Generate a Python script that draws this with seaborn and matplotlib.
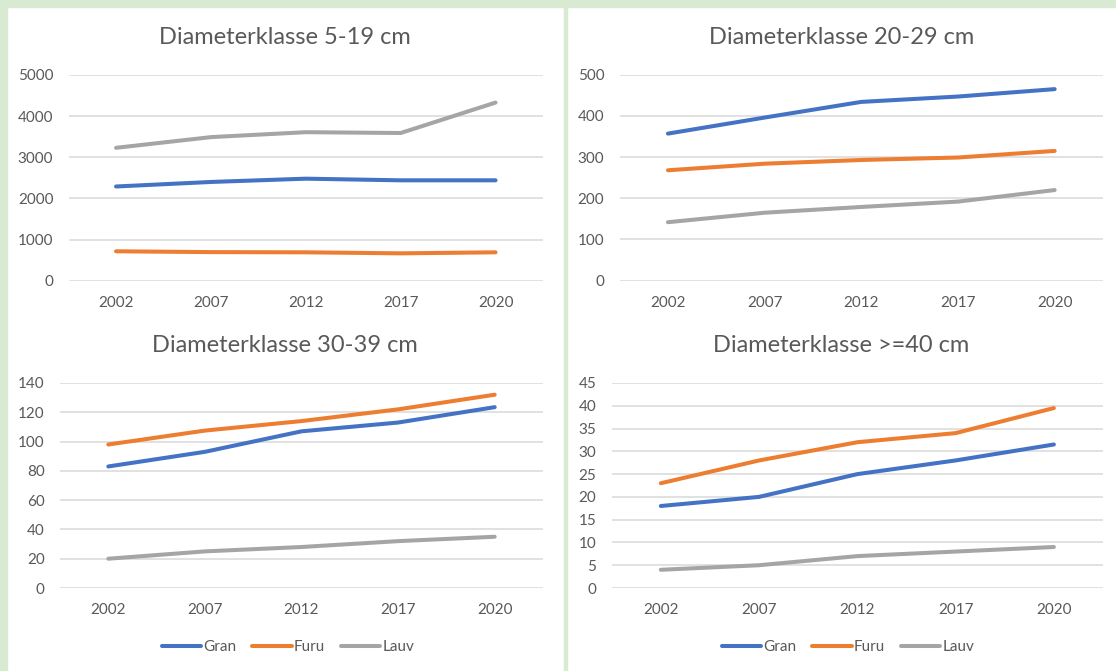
import matplotlib.pyplot as plt
import pandas as pd
import seaborn as sns
from matplotlib.patches import Rectangle

# values (trees per class and survey year)
years = ["2002", "2007", "2012", "2017", "2020"]
species = ["Gran", "Furu", "Lauv"]

gran_5_19 = [2290, 2400, 2480, 2440, 2440]
furu_5_19 = [715, 695, 690, 665, 690]
lauv_5_19 = [3230, 3490, 3610, 3590, 4330]

gran_20_29 = [357, 396, 434, 447, 465]
furu_20_29 = [268, 284, 293, 299, 315]
lauv_20_29 = [142, 165, 179, 192, 220]

gran_30_39 = [83, 93, 107, 113, 123.5]
furu_30_39 = [98, 107.5, 114, 122, 132]
lauv_30_39 = [20, 25, 28, 32, 35]

gran_40 = [18, 20, 25, 28, 31.5]
furu_40 = [23, 28, 32, 34, 39.5]
lauv_40 = [4, 5, 7, 8, 9]

titles = [
    "Diameterklasse 5-19 cm",
    "Diameterklasse 20-29 cm",
    "Diameterklasse 30-39 cm",
    "Diameterklasse >=40 cm",
]
y_max = [5000, 500, 140, 45]
y_step = [1000, 100, 20, 5]

palette = {"Gran": "#4472C4", "Furu": "#ED7D31", "Lauv": "#A5A5A5"}
TEXT = "#595959"
GRID = "#D9D9D9"
GREEN = "#D9EAD3"

W, H = 1116, 671


def long_frame(gran, furu, lauv):
    rows = []
    for name, vals in zip(species, [gran, furu, lauv]):
        for i, (yr, v) in enumerate(zip(years, vals)):
            rows.append({"pos": i, "year": yr, "Art": name, "value": v})
    return pd.DataFrame(rows)


panels = [
    long_frame(gran_5_19, furu_5_19, lauv_5_19),
    long_frame(gran_20_29, furu_20_29, lauv_20_29),
    long_frame(gran_30_39, furu_30_39, lauv_30_39),
    long_frame(gran_40, furu_40, lauv_40),
]

# pixel boxes: (x0, x1, y_top, y_bottom) of each plot area
boxes = [
    (68.6, 543, 75, 280.7),
    (619.6, 1103, 74.7, 280.7),
    (60, 543, 383, 588),
    (611.7, 1103, 383, 588),
]
title_pos = [(285, 37), (841.5, 37), (285, 345), (841.5, 345)]
legend_pos = {2: (288, 647), 3: (848, 647)}

sns.set_theme(style="white")
plt.rcParams["font.family"] = ["Lato", "DejaVu Sans"]

fig = plt.figure(figsize=(W / 100, H / 100), dpi=100)
fig.patch.set_facecolor("white")

# light green frame and the divider between the two columns
fig.patches.append(Rectangle((0, 1 - 7 / H), 1, 7 / H, transform=fig.transFigure,
                             color=GREEN, zorder=0))
fig.patches.append(Rectangle((0, 0), 7 / W, 1, transform=fig.transFigure,
                             color=GREEN, zorder=0))
fig.patches.append(Rectangle((564 / W, 0), 3 / W, 1 - 7 / H, transform=fig.transFigure,
                             color=GREEN, zorder=0))

for k, df in enumerate(panels):
    x0, x1, yt, yb = boxes[k]
    ax = fig.add_axes([x0 / W, 1 - yb / H, (x1 - x0) / W, (yb - yt) / H])
    ax.set_facecolor("none")
    sns.lineplot(
        data=df, x="pos", y="value", hue="Art", palette=palette,
        linewidth=2.9, solid_capstyle="round", ax=ax, legend=(k in legend_pos),
        zorder=3,
    )
    ax.set_xlim(-0.5, len(years) - 0.5)
    ax.set_ylim(0, y_max[k])
    ax.set_xticks(range(len(years)))
    ax.set_xticklabels(years)
    ax.set_yticks(range(0, y_max[k] + 1, y_step[k]))
    ax.set_xlabel("")
    ax.set_ylabel("")
    ax.grid(axis="y", color=GRID, linewidth=1.1, zorder=1)
    ax.grid(axis="x", visible=False)
    for s in ax.spines.values():
        s.set_visible(False)
    ax.tick_params(axis="both", length=0, labelsize=11, labelcolor=TEXT)
    ax.tick_params(axis="x", pad=11)
    ax.tick_params(axis="y", pad=11)
    for line in ax.lines:
        line.set_clip_on(False)

    tx, ty = title_pos[k]
    fig.text(tx / W, 1 - ty / H, titles[k], ha="center", va="center",
             fontsize=17, color=TEXT)

    if k in legend_pos:
        lx, ly = legend_pos[k]
        sns.move_legend(
            ax, "center", bbox_to_anchor=(lx / W, 1 - ly / H),
            bbox_transform=fig.transFigure, ncol=3, frameon=False, title=None,
            fontsize=11, handlelength=2.6, handletextpad=0.15, columnspacing=1.0,
        )
        for txt in ax.get_legend().get_texts():
            txt.set_color(TEXT)
        for h in ax.get_legend().legend_handles:
            h.set_linewidth(2.9)

fig.savefig("out.png", dpi=100)
